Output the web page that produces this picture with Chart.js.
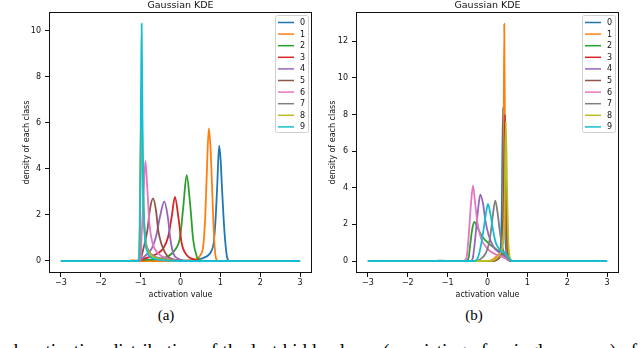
<!DOCTYPE html>
<html>
<head>
<meta charset="utf-8">
<script src="https://cdn.jsdelivr.net/npm/chart.js@4.4.1/dist/chart.umd.min.js"></script>
<style>
  html, body { margin: 0; padding: 0; background: #fff; }
  body { width: 640px; height: 348px; position: relative; overflow: hidden; }
  canvas { position: absolute; top: 0; }
  #kdeA { left: 0; }
  #kdeB { left: 320px; }
  .cap { position: absolute; font-family: 'Liberation Serif', 'Times New Roman', serif; color: #000; white-space: nowrap; }
  .sub { font-size: 15px; line-height: 15px; top: 308px; transform: translateX(-50%); }
  #caption { font-size: 19px; line-height: 19px; top: 341px; left: -20px; word-spacing: 0.5px; }
</style>
</head>
<body>
<canvas id="kdeA" width="320" height="300"></canvas>
<canvas id="kdeB" width="320" height="300"></canvas>
<div class="cap sub" style="left:166px">(a)</div>
<div class="cap sub" style="left:474px">(b)</div>
<div class="cap" id="caption">graph activation distribution of the last hidden layer (consisting of a single neuron) of</div>
<script>
const classes = ['0', '1', '2', '3', '4', '5', '6', '7', '8', '9'];
const palette = ['#1f77b4', '#ff7f0e', '#2ca02c', '#d62728', '#9467bd',
                 '#8c564b', '#e377c2', '#7f7f7f', '#bcbd22', '#17becf'];

const xTicks = [-3, -2, -1, 0, 1, 2, 3];
const yTicksA = [0, 2, 4, 6, 8, 10];
const yTicksB = [0, 2, 4, 6, 8, 10, 12];

// (a) density, [activation, density]
const kdeA0 = [[-3,0],[-1.2,0],[-1.0,0.02],[0,0.02],[0.3,0.04],[0.55,0.12],[0.7,0.25],[0.78,0.45],[0.83,0.75],[0.88,1.8],[0.92,3.2],[0.97,5.0],[1.01,4.3],[1.04,3.2],[1.08,1.9],[1.12,0.9],[1.17,0.15],[1.22,0],[3,0]];
const kdeA1 = [[-3,0],[-1.3,0],[-1.2,0.04],[-1.05,0],[0.2,0.02],[0.4,0.08],[0.5,0.25],[0.57,0.65],[0.62,1.9],[0.66,3.8],[0.71,5.75],[0.75,5.0],[0.78,3.8],[0.82,1.9],[0.85,0.8],[0.89,0.12],[0.95,0],[3,0]];
const kdeA2 = [[-3,0],[-1.05,0],[-1.0,0.05],[-0.7,0.06],[-0.5,0.1],[-0.3,0.22],[-0.14,0.48],[-0.01,1.05],[0.07,2.35],[0.155,3.72],[0.24,2.5],[0.32,0.9],[0.41,0.19],[0.49,0.04],[0.6,0],[3,0]];
const kdeA3 = [[-3,0],[-1.05,0],[-0.97,0.07],[-0.81,0.16],[-0.6,0.3],[-0.43,0.55],[-0.31,1.05],[-0.22,1.92],[-0.14,2.78],[-0.055,1.92],[0.03,0.77],[0.155,0.26],[0.32,0.08],[0.45,0.02],[0.55,0],[3,0]];
const kdeA4 = [[-3,0],[-1.05,0],[-1.0,0.05],[-0.89,0.22],[-0.72,0.55],[-0.615,1.05],[-0.515,1.92],[-0.406,2.58],[-0.32,1.92],[-0.25,0.9],[-0.18,0.33],[-0.06,0.1],[0.07,0.02],[0.2,0],[3,0]];
const kdeA5 = [[-3,0],[-1.06,0],[-1.0,0.1],[-0.92,0.62],[-0.83,1.34],[-0.77,2.2],[-0.69,2.72],[-0.615,2.2],[-0.56,1.34],[-0.47,0.69],[-0.35,0.26],[-0.18,0.07],[0,0.02],[0.2,0],[3,0]];
const kdeA6 = [[-3,0],[-1.05,0],[-1.0,0.1],[-0.98,0.9],[-0.93,2.78],[-0.88,4.34],[-0.83,3.07],[-0.78,1.63],[-0.7,0.77],[-0.56,0.33],[-0.35,0.12],[-0.1,0.03],[0.1,0],[3,0]];
const kdeA7 = [[-3,0],[-1.05,0],[-1.02,1.0],[-1.0,4.5],[-0.98,7.65],[-0.96,5.5],[-0.93,2.5],[-0.88,1.0],[-0.8,0.45],[-0.65,0.2],[-0.45,0.1],[-0.2,0.04],[0.1,0],[3,0]];
const kdeA8 = [[-3,0],[-1.06,0],[-1.03,1.0],[-1.0,4.5],[-0.985,6.42],[-0.96,4.5],[-0.93,2.2],[-0.88,0.9],[-0.78,0.35],[-0.6,0.12],[-0.3,0.04],[0,0],[3,0]];
const kdeA9 = [[-3,0],[-1.05,0],[-1.02,1.5],[-0.99,7.5],[-0.975,10.29],[-0.96,7.5],[-0.94,3.5],[-0.9,1.2],[-0.83,0.4],[-0.7,0.12],[-0.4,0.03],[0,0],[3,0]];

// (b)
const kdeB0 = [[-3,0],[-1.4,0],[-1.2,0.02],[-0.8,0],[0.1,0],[0.2,0.05],[0.28,0.2],[0.33,0.7],[0.36,3.0],[0.39,8.4],[0.42,4.5],[0.45,1.2],[0.5,0.2],[0.56,0.02],[0.62,0],[3,0]];
const kdeB1 = [[-3,0],[0.0,0],[0.15,0.1],[0.25,0.3],[0.32,0.45],[0.37,1.0],[0.4,4.0],[0.42,12.95],[0.44,6.0],[0.47,1.5],[0.51,0.3],[0.56,0.03],[0.62,0],[3,0]];
const kdeB2 = [[-3,0],[-0.52,0],[-0.47,0.23],[-0.43,0.96],[-0.38,1.78],[-0.33,2.14],[-0.26,1.87],[-0.18,1.51],[-0.1,1.24],[0.03,0.96],[0.15,0.75],[0.28,0.54],[0.39,0.4],[0.47,0.14],[0.55,0.03],[0.62,0],[3,0]];
const kdeB3 = [[-3,0],[0.1,0],[0.25,0.1],[0.33,0.35],[0.38,1.2],[0.41,3.5],[0.44,8.0],[0.47,4.0],[0.5,1.0],[0.54,0.15],[0.6,0],[3,0]];
const kdeB4 = [[-3,0],[-0.42,0],[-0.37,0.15],[-0.33,0.78],[-0.28,1.87],[-0.22,3.14],[-0.18,3.63],[-0.113,3.14],[-0.055,2.23],[0.028,1.42],[0.15,0.78],[0.32,0.42],[0.45,0.23],[0.55,0.03],[0.62,0],[3,0]];
const kdeB5 = [[-3,0],[0.15,0],[0.3,0.2],[0.37,0.8],[0.41,3.0],[0.44,6.8],[0.47,3.5],[0.5,0.8],[0.55,0.1],[0.6,0],[3,0]];
const kdeB6 = [[-3,0],[-0.6,0],[-0.53,0.15],[-0.474,1.32],[-0.414,3.14],[-0.364,4.12],[-0.31,3.14],[-0.25,2.05],[-0.163,1.24],[-0.012,0.69],[0.15,0.42],[0.32,0.27],[0.45,0.14],[0.53,0.04],[0.6,0],[3,0]];
const kdeB7 = [[-3,0],[-0.32,0],[-0.25,0.03],[-0.16,0.13],[-0.055,0.38],[0.028,0.87],[0.09,1.69],[0.14,2.6],[0.196,3.3],[0.255,2.6],[0.305,1.69],[0.365,0.87],[0.42,0.42],[0.49,0.2],[0.55,0.03],[0.62,0],[3,0]];
const kdeB8 = [[-3,0],[0.05,0],[0.2,0.1],[0.3,0.35],[0.38,0.9],[0.43,3.0],[0.46,7.6],[0.49,4.0],[0.52,1.2],[0.56,0.2],[0.62,0],[3,0]];
const kdeB9 = [[-3,0],[-0.35,0],[-0.28,0.05],[-0.22,0.33],[-0.163,0.87],[-0.1,1.69],[-0.038,2.6],[0.012,3.12],[0.07,2.6],[0.14,1.69],[0.2,1.05],[0.28,0.69],[0.36,0.5],[0.44,0.45],[0.5,0.27],[0.57,0.07],[0.64,0],[3,0]];

const seriesA = [kdeA0, kdeA1, kdeA2, kdeA3, kdeA4, kdeA5, kdeA6, kdeA7, kdeA8, kdeA9];
const seriesB = [kdeB0, kdeB1, kdeB2, kdeB3, kdeB4, kdeB5, kdeB6, kdeB7, kdeB8, kdeB9];

const minus = v => (v < 0 ? '\u2212' + Math.abs(v) : String(v));
const FONT = 'DejaVu Sans';
const INK = '#111';

// axes frame + boxed legend in the upper right, like matplotlib
const frameAndLegend = {
  id: 'frameAndLegend',
  afterDraw(chart) {
    const { ctx, chartArea: a } = chart;
    ctx.save();
    ctx.strokeStyle = INK;
    ctx.lineWidth = 1;
    ctx.strokeRect(Math.round(a.left) + 0.5, Math.round(a.top) + 0.5,
                   Math.round(a.right - a.left) - 1, Math.round(a.bottom - a.top) - 1);

    const w = 33, h = 117, step = 11.6;
    const x = Math.round(a.right) - 4 - w, y = Math.round(a.top) + 3;
    ctx.fillStyle = 'rgba(255,255,255,0.8)';
    ctx.strokeStyle = '#d0d0d0';
    ctx.beginPath();
    ctx.roundRect(x + 0.5, y + 0.5, w, h, 2);
    ctx.fill();
    ctx.stroke();
    ctx.font = '8px ' + FONT;
    ctx.textBaseline = 'middle';
    ctx.textAlign = 'left';
    chart.data.datasets.forEach((ds, i) => {
      const ly = y + 7.5 + i * step;
      ctx.strokeStyle = ds.borderColor;
      ctx.lineWidth = 1.5;
      ctx.beginPath();
      ctx.moveTo(x + 3, ly);
      ctx.lineTo(x + 19, ly);
      ctx.stroke();
      ctx.fillStyle = INK;
      ctx.fillText(ds.label, x + 25, ly + 0.5);
    });
    ctx.restore();
  }
};

function kdeChart(id, series, yTicks, yMin, yMax, yWidth, rightPad, yTitlePad) {
  return new Chart(document.getElementById(id), {
    type: 'line',
    data: {
      datasets: series.map((pts, i) => ({
        label: classes[i],
        data: pts.map(p => ({ x: p[0], y: p[1] })),
        borderColor: palette[i],
        backgroundColor: palette[i],
        borderWidth: 1.8,
        pointRadius: 0,
        fill: false,
        cubicInterpolationMode: 'monotone',
        order: classes.length - i
      }))
    },
    options: {
      responsive: false,
      devicePixelRatio: 1,
      animation: false,
      events: [],
      layout: { padding: { left: 0, right: rightPad, top: 0, bottom: 0 } },
      plugins: {
        legend: { display: false },
        tooltip: { enabled: false },
        title: {
          display: true,
          text: 'Gaussian KDE',
          fullSize: false,
          color: INK,
          font: { family: FONT, size: 9.5, weight: 'normal', lineHeight: '12px' },
          padding: { top: 0, bottom: 0 }
        }
      },
      scales: {
        x: {
          type: 'linear',
          min: -3.3,
          max: 3.3,
          afterBuildTicks: s => { s.ticks = xTicks.map(v => ({ value: v })); },
          afterFit: s => { s.height = 27; },
          grid: { drawOnChartArea: false, drawTicks: true, tickLength: 4, color: INK },
          border: { display: false },
          ticks: { callback: v => minus(v), color: INK, padding: 1, maxRotation: 0,
                   font: { family: FONT, size: 8 } },
          title: { display: true, text: 'activation value', color: INK,
                   font: { family: FONT, size: 8 }, padding: { top: 0, bottom: 0 } }
        },
        y: {
          type: 'linear',
          min: yMin,
          max: yMax,
          afterBuildTicks: s => { s.ticks = yTicks.map(v => ({ value: v })); },
          afterFit: s => { s.width = yWidth; },
          grid: { drawOnChartArea: false, drawTicks: true, tickLength: 4, color: INK },
          border: { display: false },
          ticks: { callback: v => minus(v), color: INK, padding: 4,
                   font: { family: FONT, size: 8 } },
          title: { display: true, text: 'density of each class', color: INK,
                   font: { family: FONT, size: 8 }, padding: { top: yTitlePad, bottom: 0 } }
        }
      }
    },
    plugins: [frameAndLegend]
  });
}

kdeChart('kdeA', seriesA, yTicksA, -0.5205, 10.8, 49, 8, 22);
kdeChart('kdeB', seriesB, yTicksB, -0.6554, 13.6, 36, 21, 8.5);
</script>
</body>
</html>
